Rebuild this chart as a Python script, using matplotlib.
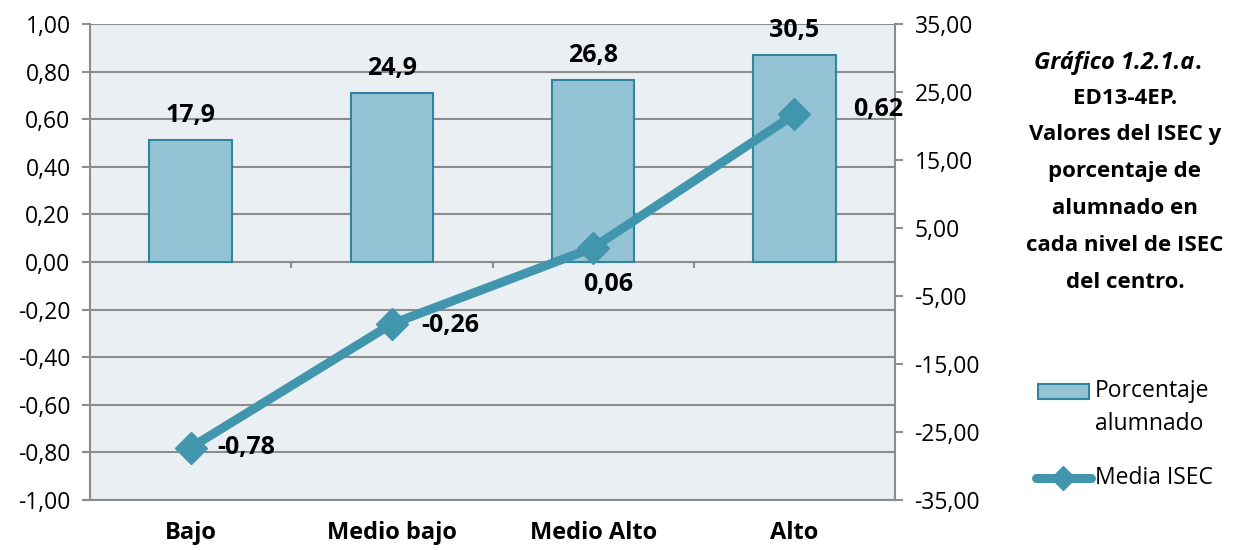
import matplotlib
matplotlib.use("Agg")
import matplotlib.pyplot as plt
from matplotlib.lines import Line2D
from matplotlib.patches import Rectangle

categories = ["Bajo", "Medio bajo", "Medio Alto", "Alto"]
porcentaje = [17.9, 24.9, 26.8, 30.5]
isec = [-0.78, -0.26, 0.06, 0.62]
left_ticks = [-1.0, -0.8, -0.6, -0.4, -0.2, 0.0, 0.2, 0.4, 0.6, 0.8, 1.0]
right_ticks = [-35, -25, -15, -5, 5, 15, 25, 35]

plt.rcParams['font.family'] = ['Open Sans', 'DejaVu Sans']

BG = '#e9eff3'
GRID = '#8c8c8c'
BAR = '#93c3d4'
BAR_EDGE = '#31859c'
LINE = '#4196ae'
W, H = 1236, 550
TICK_FS = 16.5
LABEL_FS = 18

fig = plt.figure(figsize=(12.36, 5.5), dpi=100)
ax = fig.add_axes([90/W, 1-500/H, 805/W, 476/H])  # bars, right axis
ax2 = ax.twinx()  # line, left axis

x = list(range(len(categories)))
ax.set_xlim(-0.5, len(categories) - 0.5)
ax.set_ylim(-35, 35)
ax.set_facecolor(BG)

# gridlines at left-axis ticks, converted to right-axis units
for t in left_ticks:
    ax.axhline(t * 35, color=GRID, lw=1.5, zorder=0.5)

ax.bar(x, porcentaje, width=0.41, color=BAR, edgecolor=BAR_EDGE, linewidth=1.5, zorder=2)
for xi, v in zip(x, porcentaje):
    ax.annotate(f"{v:.1f}".replace('.', ','), (xi, v), xytext=(0, 18), textcoords='offset pixels',
                ha='center', va='baseline', fontsize=LABEL_FS, fontweight='bold')

# category tick marks on the zero line
for b in [0.5, 1.5, 2.5]:
    ax.plot([b, b], [0, -0.9], color=GRID, lw=1.5, zorder=0.6, solid_capstyle='butt')

ax.yaxis.tick_right()
ax.yaxis.set_label_position('right')
ax.set_yticks(right_ticks)
ax.set_yticklabels([f"{v:.2f}".replace('.', ',') for v in right_ticks], fontsize=TICK_FS)
ax.tick_params(axis='y', direction='out', length=6, width=1.5, color=GRID, pad=8)
ax.set_xticks(x)
ax.set_xticklabels(categories, fontsize=17, fontweight='bold')
ax.tick_params(axis='x', length=0, pad=15)

ax.spines['top'].set_visible(False)
for s in ['left', 'right', 'bottom']:
    ax.spines[s].set_color(GRID)
    ax.spines[s].set_linewidth(1.5)

ax2.set_ylim(-1, 1)
ax2.plot(x, isec, color=LINE, lw=6.5, marker='D', ms=16, zorder=3, solid_capstyle='round')
ax2.yaxis.tick_left()
ax2.set_yticks(left_ticks)
ax2.set_yticklabels([f"{v:.2f}".replace('.', ',') for v in left_ticks], fontsize=TICK_FS)
ax2.tick_params(axis='y', direction='out', length=6, width=1.5, color=GRID, pad=8)
for s in ax2.spines.values():
    s.set_visible(False)

offsets = [(56, 0), (58, -2), (15, -37), (84, 5)]
for xi, v, off in zip(x, isec, offsets):
    ax2.annotate(f"{v:.2f}".replace('.', ','), (xi, v), xytext=off, textcoords='offset pixels',
                 ha='center', va='center', fontsize=LABEL_FS, fontweight='bold',
                 annotation_clip=False)

# title block
t1 = fig.text(1114/W, 1-63/H, "Gráfico 1.2.1.a", ha='center', va='center', fontsize=17,
              fontweight='bold', style='italic')
ax.annotate(".", xy=(1, 0), xycoords=t1, ha='left', va='bottom', fontsize=17, fontweight='bold',
            annotation_clip=False)
title_lines = ["ED13-4EP.", "Valores del ISEC y", "porcentaje de", "alumnado en",
               "cada nivel de ISEC", "del centro."]
for i, line in enumerate(title_lines):
    fig.text(1125/W, 1-(98 + i*36.8)/H, line, ha='center', va='center',
             fontsize=16, fontweight='bold')

# legend (drawn manually in figure coordinates)
fig.patches.append(Rectangle((1038/W, 1-399/H), 51/W, 15/H, transform=fig.transFigure,
                             facecolor=BAR, edgecolor=BAR_EDGE, linewidth=1.5))
fig.text(1095/W, 1-391/H, "Porcentaje", ha='left', va='center', fontsize=TICK_FS)
fig.text(1095/W, 1-424/H, "alumnado", ha='left', va='center', fontsize=TICK_FS)
fig.lines.append(Line2D([1036/W, 1091/W], [1-478/H, 1-478/H], transform=fig.transFigure,
                        color=LINE, lw=6.5, solid_capstyle='round'))
fig.lines.append(Line2D([1063/W], [1-478/H], transform=fig.transFigure, color=LINE,
                        marker='D', ms=12, lw=0))
fig.text(1095/W, 1-478/H, "Media ISEC", ha='left', va='center', fontsize=TICK_FS)

fig.savefig("out.png", dpi=100)
